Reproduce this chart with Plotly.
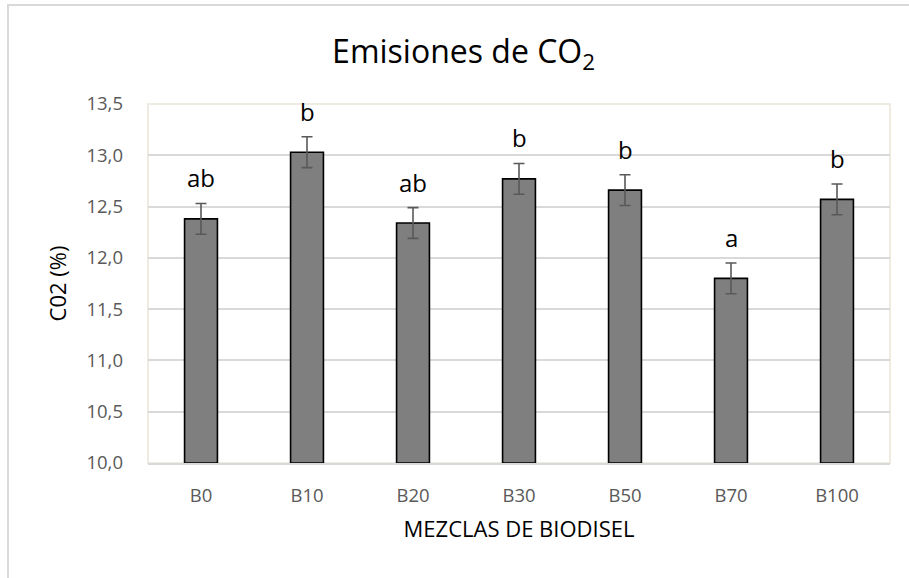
import plotly.graph_objects as go

categories = ["B0", "B10", "B20", "B30", "B50", "B70", "B100"]
co2_values = [12.38, 13.03, 12.34, 12.77, 12.66, 11.80, 12.57]
co2_errors = [0.15, 0.15, 0.15, 0.15, 0.15, 0.15, 0.15]
group_letters = ["ab", "b", "ab", "b", "b", "a", "b"]
y_ticks = [10.0, 10.5, 11.0, 11.5, 12.0, 12.5, 13.0, 13.5]
y_tick_labels = ["10,0", "10,5", "11,0", "11,5", "12,0", "12,5", "13,0", "13,5"]

FONT = "Open Sans"

fig = go.Figure()
fig.add_trace(go.Bar(
    x=categories, y=[v - 10.0 for v in co2_values], base=10.0,
    width=0.31,
    marker=dict(color="#7f7f7f", line=dict(color="#000000", width=1.6)),
    error_y=dict(type="data", array=co2_errors, visible=True,
                 color="#595959", thickness=1.6, width=5.5),
    hoverinfo="skip",
))

for cat, v, e, lab in zip(categories, co2_values, co2_errors, group_letters):
    fig.add_annotation(x=cat, y=v + e, text=lab, showarrow=False,
                       yanchor="bottom", yshift=7,
                       font=dict(family=FONT, size=24, color="#000000"))

# plot-area border (beige) and outer chart border
fig.add_shape(type="rect", xref="paper", yref="paper", x0=0, x1=1, y0=0, y1=1,
              line=dict(color="#eeece1", width=2), layer="below")
fig.add_shape(type="rect", xref="paper", yref="paper",
              x0=-0.1887, x1=1.2, y0=-0.5, y1=1.2758,
              line=dict(color="#d9d9d9", width=2), layer="below")

fig.update_layout(
    width=909, height=578,
    margin=dict(l=148, r=19, t=104, b=115),
    paper_bgcolor="white", plot_bgcolor="white",
    showlegend=False,
    title=dict(text="Emisiones de CO<sub>2</sub>", x=0.51, xanchor="center",
               y=1 - 52 / 578, yanchor="middle",
               font=dict(family=FONT, size=32, color="#000000")),
    xaxis=dict(
        type="category", showgrid=False, showline=True, linecolor="#d9d9d9",
        linewidth=2, ticks="", ticklabelstandoff=15,
        tickfont=dict(family=FONT, size=18.5, color="#595959"),
        title=dict(text="MEZCLAS DE BIODISEL", standoff=15,
                   font=dict(family=FONT, size=22, color="#000000")),
    ),
    yaxis=dict(
        range=[10.0, 13.5], tickvals=y_ticks, ticktext=y_tick_labels,
        showgrid=True, gridcolor="#d9d9d9", gridwidth=1.5,
        zeroline=False, showline=False, ticks="", ticklabelstandoff=24,
        tickfont=dict(family=FONT, size=18.5, color="#595959"),
        title=dict(text="C02 (%)", standoff=13,
                   font=dict(family=FONT, size=22, color="#000000")),
    ),
)

fig.write_html("out.html")
